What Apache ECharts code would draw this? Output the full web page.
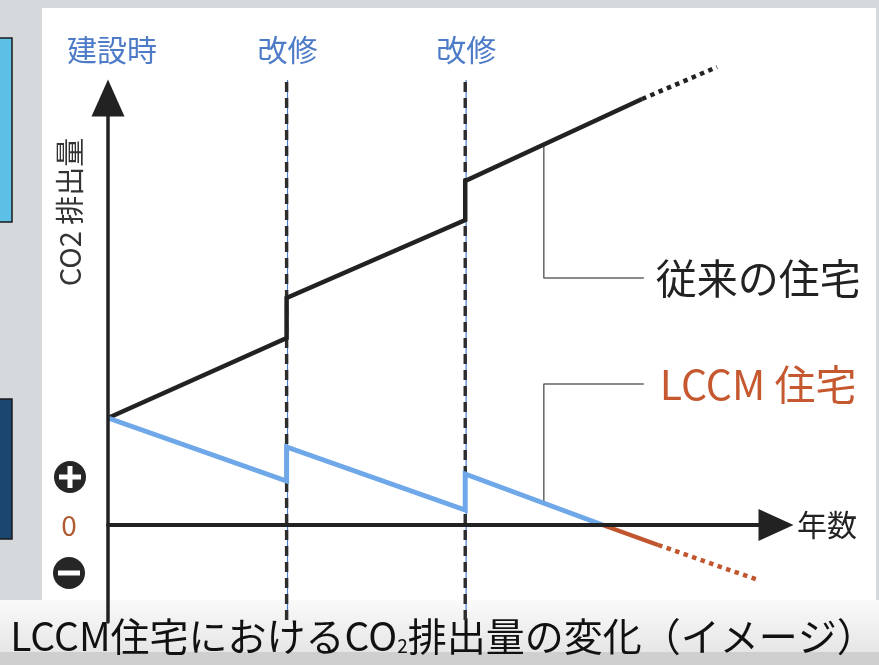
<!DOCTYPE html>
<html>
<head>
<meta charset="utf-8">
<script src="https://cdn.jsdelivr.net/npm/echarts@6/dist/echarts.min.js"></script>
<style>
html,body{margin:0;padding:0;background:#d6d9dc;}
#chart{width:879px;height:665px;}
</style>
</head>
<body>
<div id="chart"></div>
<script>
// ---- data (years on x, conceptual CO2 amount on y) ----
const eventYears = [0, 10, 20];
const eventLabels = ['建設時', '改修', '改修'];
const renovationYears = [10, 20];

const conventionalX = [0, 10, 10, 20, 20, 29.9];
const conventionalY = [10.7, 18.7, 22.7, 30.5, 34.4, 42.6];
const conventionalFutureX = [29.9, 34.1];
const conventionalFutureY = [42.6, 45.8];

const lccmX = [0, 10, 10, 20, 20, 27.7];
const lccmY = [10.7, 4.4, 7.8, 1.5, 5.1, 0];
const lccmNegX = [27.7, 30.8];
const lccmNegY = [0, -2.0];
const lccmFutureX = [30.8, 36.4];
const lccmFutureY = [-2.0, -5.5];

const leaderConvX = [24.4, 24.4, 30.0];
const leaderConvY = [38.0, 24.7, 24.7];
const leaderLccmX = [24.4, 24.4, 30.0];
const leaderLccmY = [2.2, 14.1, 14.1];

const guideYRange = [-9.5, 44.5];

const conventionalName = '従来の住宅';
const lccmName = 'LCCM 住宅';
const yAxisName = 'CO2 排出量';
const xAxisName = '年数';
const caption = ['LCCM住宅における', 'CO', '2', '排出量の変化（イメージ）'];

const zip = (xs, ys) => xs.map((x, i) => [x, ys[i]]);
const FONT = '"Noto Sans CJK JP", "Noto Sans", sans-serif';

const chart = echarts.init(document.getElementById('chart'), null, {renderer: 'canvas'});

const series = [];
renovationYears.forEach(yr => {
  series.push({type: 'line', z: 3, clip: false, symbol: 'none', silent: true,
    data: [[yr + 0.05, guideYRange[0]], [yr + 0.05, guideYRange[1]]],
    lineStyle: {color: '#4a7fd0', width: 1.2}});
  series.push({type: 'line', z: 3, clip: false, symbol: 'none', silent: true,
    data: [[yr, guideYRange[0]], [yr, guideYRange[1]]],
    lineStyle: {color: '#2e2e2e', width: 3.4, type: [10, 6], cap: 'butt'}});
});
series.push({type: 'line', z: 3, clip: false, symbol: 'none', data: zip(leaderConvX, leaderConvY),
  lineStyle: {color: '#666', width: 1.5}});
series.push({type: 'line', z: 3, clip: false, symbol: 'none', data: zip(leaderLccmX, leaderLccmY),
  lineStyle: {color: '#666', width: 1.5}});
series.push({type: 'line', z: 4, clip: false, symbol: 'none', data: zip(conventionalX, conventionalY),
  lineStyle: {color: '#222', width: 4.5, join: 'miter'}});
series.push({type: 'line', z: 4, clip: false, symbol: 'none', data: zip(conventionalFutureX, conventionalFutureY),
  lineStyle: {color: '#222', width: 4.5, type: 'dotted'}});
series.push({type: 'line', z: 4, clip: false, symbol: 'none', data: zip(lccmX, lccmY),
  lineStyle: {color: '#6ea8e8', width: 5, join: 'miter'}});
series.push({type: 'line', z: 4, clip: false, symbol: 'none', data: zip(lccmNegX, lccmNegY),
  lineStyle: {color: '#c0552e', width: 4.5}});
series.push({type: 'line', z: 4, clip: false, symbol: 'none', data: zip(lccmFutureX, lccmFutureY),
  lineStyle: {color: '#c0552e', width: 4.5, type: 'dotted'}});

chart.setOption({
  backgroundColor: '#d6d9dc',
  animation: false,
  grid: {left: 108, right: 103, top: 98, bottom: 43, containLabel: false},
  xAxis: {type: 'value', min: 0, max: 37.4, z: 5,
    axisLine: {show: true, onZero: true, symbol: ['none', 'triangle'], symbolSize: [32, 35],
      lineStyle: {color: '#222', width: 4}},
    axisTick: {show: false}, axisLabel: {show: false}, splitLine: {show: false}},
  yAxis: {type: 'value', min: -9.7, max: 42.7, z: 5,
    axisLine: {show: true, onZero: true, symbol: ['none', 'triangle'], symbolSize: [33, 37],
      lineStyle: {color: '#222', width: 3.5}},
    axisTick: {show: false}, axisLabel: {show: false}, splitLine: {show: false}},
  series: series
});

const px = (x, y) => chart.convertToPixel({gridIndex: 0}, [x, y]);
const zero = px(0, 0);
const topY = 50;
const elements = [
  // backgrounds
  {type: 'rect', z: -10, shape: {x: 42, y: 8, width: 834, height: 594}, style: {fill: '#ffffff'}},
  {type: 'rect', z: -10, shape: {x: 0, y: 600, width: 879, height: 52},
    style: {fill: new echarts.graphic.LinearGradient(0, 0, 0, 1, [{offset: 0, color: '#fafafa'}, {offset: 1, color: '#e6e6e6'}])}},
  {type: 'rect', z: -10, shape: {x: 0, y: 652, width: 879, height: 13}, style: {fill: '#cfcfcf'}},
  {type: 'rect', z: -10, shape: {x: -2, y: 38, width: 14, height: 184}, style: {fill: '#5cbfe6', stroke: '#1a1a1a', lineWidth: 1.5}},
  {type: 'rect', z: -10, shape: {x: -2, y: 399, width: 14, height: 140}, style: {fill: '#1b4670', stroke: '#1a1a1a', lineWidth: 1.5}},
];
eventYears.forEach((yr, i) => {
  const p = px(yr, 0);
  elements.push({type: 'text', x: p[0] + (i === 0 ? 4 : 1), y: topY,
    style: {text: eventLabels[i], font: '30px ' + FONT, fill: '#4d7bc8', align: 'center', verticalAlign: 'middle'}});
});
// y axis name (vertical)
elements.push({type: 'text', x: 70, y: 212, rotation: Math.PI / 2,
  style: {text: yAxisName, font: '29px ' + FONT, fill: '#333', align: 'center', verticalAlign: 'middle'}});
// + / 0 / - marks
elements.push({type: 'circle', shape: {cx: 70, cy: zero[1] - 48, r: 16}, style: {fill: '#262626'}});
elements.push({type: 'rect', shape: {x: 59, y: zero[1] - 50.5, width: 22, height: 5}, style: {fill: '#fff'}});
elements.push({type: 'rect', shape: {x: 67.5, y: zero[1] - 59, width: 5, height: 22}, style: {fill: '#fff'}});
elements.push({type: 'text', x: 69, y: zero[1], style: {text: '0', font: '28px ' + FONT, fill: '#b05a30', align: 'center', verticalAlign: 'middle'}});
elements.push({type: 'circle', shape: {cx: 69, cy: zero[1] + 48, r: 16}, style: {fill: '#262626'}});
elements.push({type: 'rect', shape: {x: 58, y: zero[1] + 45.5, width: 22, height: 5}, style: {fill: '#fff'}});
// x axis name
elements.push({type: 'text', x: 797, y: zero[1], style: {text: xAxisName, font: '30px ' + FONT, fill: '#222', align: 'left', verticalAlign: 'middle'}});
// callout labels
const lc = px(leaderConvX[2], leaderConvY[2]);
elements.push({type: 'text', x: lc[0] + 12, y: lc[1], style: {text: conventionalName, font: '41px ' + FONT, fill: '#222', align: 'left', verticalAlign: 'middle'}});
const ll = px(leaderLccmX[2], leaderLccmY[2]);
elements.push({type: 'text', x: ll[0] + 16, y: ll[1], style: {text: lccmName, font: '41px ' + FONT, fill: '#c5582f', align: 'left', verticalAlign: 'middle'}});
// caption
elements.push({type: 'text', x: 443, y: 636,
  style: {
    text: '{a|' + caption[0] + '}{a|' + caption[1] + '}{s|' + caption[2] + '}{a|' + caption[3] + '}',
    align: 'center', verticalAlign: 'middle',
    rich: {
      a: {font: '39px ' + FONT, fill: '#111', color: '#111'},
      s: {font: '19px ' + FONT, fill: '#111', color: '#111', verticalAlign: 'bottom', padding: [16, 0, 0, 0]}
    }
  }});

chart.setOption({graphic: {elements: elements}});
</script>
</body>
</html>
